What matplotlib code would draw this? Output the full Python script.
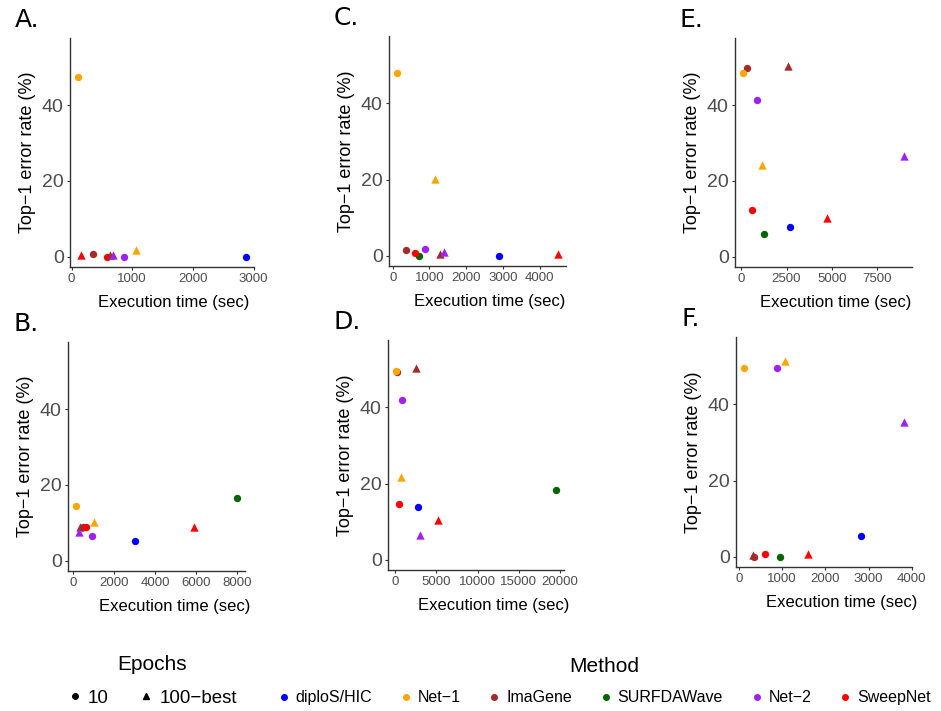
import numpy as np
import matplotlib
matplotlib.use("Agg")
import matplotlib.pyplot as plt
from matplotlib.lines import Line2D

# methods and colours (ggplot named colours)
methods = ["diploS/HIC", "Net-1", "ImaGene", "SURFDAWave", "Net-2", "SweepNet"]
method_labels = ["diploS/HIC", "Net\u22121", "ImaGene", "SURFDAWave", "Net\u22122", "SweepNet"]
colors = ["#0000FF", "#FFA500", "#A52A2A", "#006400", "#A020F0", "#FF0000"]
nan = np.nan

# values per panel, in the order of `methods`
# 10 epochs (circles)  /  100-best (triangles)
A_time_10 = [2870, 113, 355, nan, 865, 585]
A_err_10 = [0, 47.4, 0.7, nan, 0, 0]
A_time_100 = [nan, 1060, 640, nan, 690, 160]
A_err_100 = [nan, 1.8, 0.5, nan, 0.3, 0.3]

B_time_10 = [3004, 131, 457, 8000, 914, 620]
B_err_10 = [5.3, 14.3, 8.75, 16.6, 6.4, 8.75]
B_time_100 = [nan, 1012, 327, nan, 260, 5910]
B_err_100 = [nan, 10.2, 8.8, nan, 7.6, 8.75]

C_time_10 = [2900, 118, 373, 709, 882, 618]
C_err_10 = [0, 47.9, 1.4, 0, 1.7, 0.6]
C_time_100 = [nan, 1145, 1282, nan, 1400, 4500]
C_err_100 = [nan, 20.1, 0.4, nan, 1.0, 0.5]

D_time_10 = [2720, 80, 244, 19550, 813, 447]
D_err_10 = [13.9, 49.7, 49.4, 18.3, 41.9, 14.7]
D_time_100 = [nan, 690, 2520, nan, 2960, 5160]
D_err_100 = [nan, 21.6, 50.3, nan, 6.4, 10.5]

E_time_10 = [2704, 93, 296, 1278, 852, 593]
E_err_10 = [7.9, 48.6, 49.7, 6.1, 41.3, 12.2]
E_time_100 = [nan, 1148, 2574, nan, 9000, 4760]
E_err_100 = [nan, 24.1, 50.3, nan, 26.6, 10.1]

F_time_10 = [2834, 116, 340, 950, 873, 610]
F_err_10 = [5.3, 49.7, 0, 0, 49.7, 0.8]
F_time_100 = [nan, 1066, 332, nan, 3822, 1590]
F_err_100 = [nan, 51.4, 0.3, nan, 35.4, 0.8]

A_xticks = [0, 1000, 2000, 3000]
B_xticks = [0, 2000, 4000, 6000, 8000]
C_xticks = [0, 1000, 2000, 3000, 4000]
D_xticks = [0, 5000, 10000, 15000, 20000]
E_xticks = [0, 2500, 5000, 7500]
F_xticks = [0, 1000, 2000, 3000, 4000]
yticks = [0, 20, 40]

font = ["Liberation Sans Narrow", "Liberation Sans", "DejaVu Sans"]

# tag, data, x ticks, axes box in pixels (left, right, top, bottom), x-label shift
panels = [
    ("A.", A_time_10, A_err_10, A_time_100, A_err_100, A_xticks, (70, 254, 38, 267), 12),
    ("B.", B_time_10, B_err_10, B_time_100, B_err_100, B_xticks, (68, 245, 342, 571), 18),
    ("C.", C_time_10, C_err_10, C_time_100, C_err_100, C_xticks, (389, 566, 36, 266), 12),
    ("D.", D_time_10, D_err_10, D_time_100, D_err_100, D_xticks, (388, 564, 340, 570), 18),
    ("E.", E_time_10, E_err_10, E_time_100, E_err_100, E_xticks, (735, 912, 38, 267), 12),
    ("F.", F_time_10, F_err_10, F_time_100, F_err_100, F_xticks, (736, 912, 337, 567), 18),
]

W, H = 941, 711
fig = plt.figure(figsize=(W / 100, H / 100), dpi=100)

for tag, t10, e10, t100, e100, xt, (l, r, top, bot), shift in panels:
    ax = fig.add_axes([l / W, 1 - bot / H, (r - l) / W, (bot - top) / H])
    for i in range(len(methods)):
        z = 4 if methods[i] == "Net-1" else 3
        ax.scatter(t10[i], e10[i], s=28, marker="o", color=colors[i], linewidths=0, zorder=z)
    for i in range(len(methods)):
        ax.scatter(t100[i], e100[i], s=36, marker="^", color=colors[i], linewidths=0, zorder=3)

    # ggplot-like 5% expansion on x
    allx = np.array(t10 + t100, dtype=float)
    lo, hi = np.nanmin(allx), np.nanmax(allx)
    pad = 0.05 * (hi - lo)
    ax.set_xlim(lo - pad, hi + pad)
    ax.set_ylim(-2.75, 57.75)
    ax.set_xticks(xt)
    ax.set_yticks(yticks)

    for s in ["top", "right"]:
        ax.spines[s].set_visible(False)
    for s in ["left", "bottom"]:
        ax.spines[s].set_color("#333333")
        ax.spines[s].set_linewidth(1.0)
    ax.tick_params(colors="#333333", length=2.5, width=0.8, pad=2)
    for lab in ax.get_xticklabels():
        lab.set_family(font)
        lab.set_fontsize(9.5)
        lab.set_color("#4D4D4D")
    for lab in ax.get_yticklabels():
        lab.set_family(font)
        lab.set_fontsize(14)
        lab.set_color("#4D4D4D")

    ax.set_xlabel("Execution time (sec)", family=font, fontsize=12)
    ax.xaxis.set_label_coords(0.5 + shift / (r - l), -28 / (bot - top))
    ax.set_ylabel("Top\u22121 error rate (%)", family=font, fontsize=13, labelpad=4)

    fig.text((l - 55) / W, 1 - (top - 18) / H, tag, fontsize=18, va="center", ha="left")

# legends
ep_handles = [
    Line2D([], [], linestyle="none", marker="o", color="black", markersize=4),
    Line2D([], [], linestyle="none", marker="^", color="black", markersize=5),
]
leg1 = fig.legend(ep_handles, ["10", "100\u2212best"], title="Epochs", ncol=2, frameon=False,
                  loc="center", bbox_to_anchor=(152 / W, 1 - 681 / H),
                  prop={"family": font, "size": 13.5}, handletextpad=0.3,
                  columnspacing=1.6, handlelength=0.8, labelspacing=0.8)
leg1.get_title().set_family(font)
leg1.get_title().set_fontsize(15)

m_handles = [Line2D([], [], linestyle="none", marker="o", color=c, markersize=4) for c in colors]
leg2 = fig.legend(m_handles, method_labels, title="Method", ncol=6, frameon=False,
                  loc="center", bbox_to_anchor=(604 / W, 1 - 681 / H),
                  prop={"family": font, "size": 11.5}, handletextpad=0.35,
                  columnspacing=1.7, handlelength=0.8, labelspacing=0.9)
leg2.get_title().set_family(font)
leg2.get_title().set_fontsize(15)

fig.savefig("out.png", dpi=100)
